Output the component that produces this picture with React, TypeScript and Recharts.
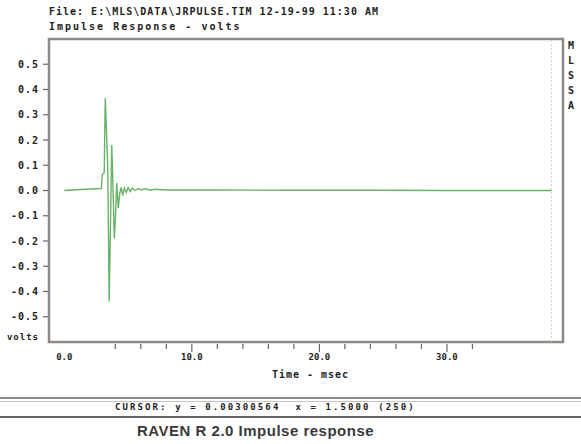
import { LineChart, Line, XAxis, YAxis, ReferenceArea, ReferenceLine } from 'recharts';

// time in msec, response in volts
const times = [
  0, 1.25, 2.9, 2.98, 3.13, 3.21, 3.33, 3.41, 3.52, 3.6, 3.72, 3.8, 3.92, 4.0, 4.11, 4.23,
  4.35, 4.46, 4.58, 4.7, 4.86, 5.0, 5.17, 5.32, 5.56, 5.8, 6.03, 6.34, 6.73, 7.13, 7.9,
  12, 18, 24, 30, 38.2,
];
const volts = [
  0.0, 0.004, 0.008, 0.065, 0.07, 0.365, 0.2, 0.08, -0.44, -0.2, 0.18, 0.05, -0.19, -0.12, 0.03, -0.07,
  -0.01, 0.012, -0.02, 0.01, -0.008, 0.012, -0.004, 0.009, 0.0, 0.008, 0.002, 0.007, 0.001, 0.005, 0.002,
  0.002, 0.001, 0.001, 0.0, 0.0,
];

const xTicks = [0, 4, 6, 8, 10, 12, 14, 16, 18, 20, 22, 24, 26, 28, 30, 32];
const xLabelTicks = [0, 10, 20, 30];
const yTicks = [-0.6, -0.5, -0.4, -0.3, -0.2, -0.1, 0, 0.1, 0.2, 0.3, 0.4, 0.5];

const titleLines = ['File: E:\\MLS\\DATA\\JRPULSE.TIM 12-19-99 11:30 AM', 'Impulse Response - volts'];
const sideLetters = ['M', 'L', 'S', 'S', 'A'];
const xAxisTitle = 'Time - msec';
const cursorText = 'CURSOR: y = 0.00300564  x = 1.5000 (250)';
const caption = 'RAVEN R 2.0 Impulse response';

const data = times.map((t, i) => ({ t, v: volts[i] }));

const mono = '"DejaVu Sans Mono", monospace';
const frame = '#8e8984';

function XTick(props: any) {
  const { x, y, payload } = props;
  const v = payload.value;
  const major = xLabelTicks.includes(v);
  const top = y - 6;
  return (
    <g>
      {v !== 0 && <line x1={x} x2={x} y1={top} y2={top + (major ? 8 : 5)} stroke="#6a6560" strokeWidth={1.2} />}
      {major && (
        <text x={x} y={top + 16} textAnchor="middle" fontFamily={mono} fontWeight="bold" fontSize={9} fill="#222">
          {v.toFixed(1)}
        </text>
      )}
    </g>
  );
}

function YTick(props: any) {
  const { x, y, payload } = props;
  const v = payload.value;
  const isUnit = v < -0.55;
  const ax = x + 8;
  return (
    <g>
      {!isUnit && <line x1={ax - 6} x2={ax - 1} y1={y} y2={y} stroke="#6a6560" strokeWidth={1.2} />}
      <text x={ax - 10} y={isUnit ? y - 2 : y + 3.5} textAnchor="end" fontFamily={mono} fontWeight="bold" fontSize={isUnit ? 9 : 10} letterSpacing={1} fill="#222">
        {isUnit ? 'volts' : v.toFixed(1)}
      </text>
    </g>
  );
}

export default function App() {
  return (
    <div style={{ position: 'absolute', left: 0, top: 0, width: 581, height: 444, background: '#fff', overflow: 'hidden' }}>
      {titleLines.map((s, i) => (
        <div
          key={i}
          style={{ position: 'absolute', left: 49, top: 6 + i * 15, fontFamily: mono, fontWeight: 'bold', fontSize: 10, color: '#222', whiteSpace: 'pre', letterSpacing: i === 0 ? 1 : 2 }}
        >
          {s}
        </div>
      ))}
      {sideLetters.map((c, i) => (
        <div
          key={i}
          style={{ position: 'absolute', left: 568, top: 40 + i * 15, fontFamily: mono, fontWeight: 'bold', fontSize: 10, color: '#222' }}
        >
          {c}
        </div>
      ))}
      <LineChart width={581} height={444} data={data} margin={{ top: 39, right: 18, bottom: 72, left: 0 }}>
        <XAxis
          dataKey="t"
          type="number"
          domain={[-1.2, 39.1]}
          ticks={xTicks}
          allowDataOverflow
          height={30}
          axisLine={false}
          tickLine={false}
          tick={<XTick />}
        />
        <YAxis
          type="number"
          domain={[-0.6, 0.6]}
          ticks={yTicks}
          allowDataOverflow
          width={49}
          axisLine={false}
          tickLine={false}
          tick={<YTick />}
        />
        <ReferenceArea x1={-1.2} x2={39.1} y1={-0.6} y2={0.6} fill="none" stroke={frame} strokeWidth={2.5} ifOverflow="visible" />
        <ReferenceLine x={38.2} stroke="#d6d0c8" strokeDasharray="2 2" strokeWidth={1} />
        <Line type="linear" dataKey="v" stroke="#66b266" strokeWidth={1.4} dot={false} isAnimationActive={false} />
      </LineChart>
      <div style={{ position: 'absolute', left: 0, width: 581, top: 369, textAlign: 'center', fontFamily: mono, fontWeight: 'bold', fontSize: 10, color: '#222', paddingLeft: 20, letterSpacing: 1 }}>
        {xAxisTitle}
      </div>
      <div style={{ position: 'absolute', left: 0, top: 397, width: 581, height: 0, borderTop: '2px solid #8e8984' }} />
      <div style={{ position: 'absolute', left: 0, top: 401, width: 581, height: 0, borderTop: '1px solid #c8c4c0' }} />
      <div style={{ position: 'absolute', left: 115, top: 402, fontFamily: mono, fontWeight: 'bold', fontSize: 9, color: '#222', whiteSpace: 'pre', letterSpacing: 2.1 }}>
        {cursorText}
      </div>
      <div style={{ position: 'absolute', left: 0, top: 416, width: 581, height: 0, borderTop: '2px solid #6a6560' }} />
      <div style={{ position: 'absolute', left: 137, top: 422, fontFamily: '"Liberation Sans", Arial, sans-serif', fontWeight: 'bold', fontSize: 15, color: '#3a3a3a', letterSpacing: 0.5 }}>
        {caption}
      </div>
    </div>
  );
}
